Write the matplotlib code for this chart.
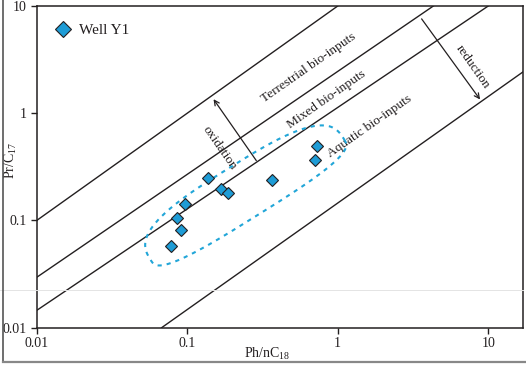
import numpy as np
import matplotlib
matplotlib.use("Agg")
import matplotlib.pyplot as plt
from matplotlib.lines import Line2D

plt.rcParams['font.family'] = ['Liberation Serif', 'DejaVu Serif']
plt.rcParams['mathtext.fontset'] = 'custom'
plt.rcParams['mathtext.rm'] = 'Liberation Serif'
plt.rcParams['mathtext.it'] = 'Liberation Serif:italic'

# ---- data ----
ph_nc18 = [0.078, 0.0906, 0.0859, 0.0967, 0.138, 0.167, 0.1875, 0.364, 0.725, 0.706]
pr_c17 = [0.0578, 0.0814, 0.106, 0.1416, 0.2506, 0.1954, 0.1795, 0.2387, 0.495, 0.366]
series_label = "Well Y1"

# boundary lines (endpoints in data units)
boundary_x = [[0.01, 1.0], [0.01, 4.32], [0.01, 10.0], [0.0676, 17.1]]
boundary_y = [[0.1, 10.0], [0.0295, 10.0], [0.0145, 10.0], [0.01, 2.44]]

x_ticks = [0.01, 0.1, 1, 10]
x_ticklabels = ["0.01", "0.1", "1", "10"]
y_ticks = [0.01, 0.1, 1, 10]
y_ticklabels = ["0.01", "0.1", "1", "10"]

dark = '#231f20'
blue = '#1e9cd6'
dash_blue = '#22a6d8'

fig = plt.figure(figsize=(5.26, 3.65), dpi=100)
ax = fig.add_axes([36.7 / 526, 37.3 / 365, 486.6 / 526, 321.7 / 365])
ax.set_xscale('log')
ax.set_yscale('log')
ax.set_xlim(0.01, 17.1)
ax.set_ylim(0.01, 10)

for bx, by in zip(boundary_x, boundary_y):
    ax.plot(bx, by, color=dark, lw=1.0, zorder=2)

# arrows
ax.annotate('', xy=(0.146, 1.42), xytext=(0.295, 0.344),
            arrowprops=dict(arrowstyle='->', color=dark, lw=0.9, mutation_scale=9))
ax.annotate('', xy=(9.05, 1.28), xytext=(3.52, 7.96),
            arrowprops=dict(arrowstyle='->', color=dark, lw=0.9, mutation_scale=9))

tfs = 9.6
ax.text(0.644, 2.65, 'Terrestrial bio-inputs', rotation=35, rotation_mode='anchor',
        ha='center', va='center', fontsize=tfs, color=dark)
ax.text(0.849, 1.33, 'Mixed bio-inputs', rotation=35, rotation_mode='anchor',
        ha='center', va='center', fontsize=tfs, color=dark)
ax.text(1.64, 0.761, 'Aquatic bio-inputs', rotation=35, rotation_mode='anchor',
        ha='center', va='center', fontsize=tfs, color=dark)
ax.text(0.165, 0.474, 'oxidation', rotation=-55, rotation_mode='anchor',
        ha='center', va='center', fontsize=tfs, color=dark)
ax.text(7.93, 2.71, 'reduction', rotation=-55, rotation_mode='anchor',
        ha='center', va='center', fontsize=tfs, color=dark)

# dashed envelope (asymmetric superellipse defined in pixel units around a data centre)
env_center = (0.252, 0.155)
env_a, env_b_up, env_b_low, env_n, env_angle = 114.0, 37.0, 18.0, 3.0, 32.0
fig.canvas.draw()
cx, cy = ax.transData.transform(env_center)
t = np.linspace(0, 2 * np.pi, 400)
ct, st = np.cos(t), np.sin(t)
u = env_a * np.sign(ct) * np.abs(ct) ** (2 / env_n)
b = np.where(st > 0, env_b_low, env_b_up)
v = b * np.sign(st) * np.abs(st) ** (2 / env_n)
th = np.deg2rad(env_angle)
dx = u * np.cos(th) + v * np.sin(th)
dy_img = -u * np.sin(th) + v * np.cos(th)
pts = np.column_stack([cx + dx, cy - dy_img])
dpts = ax.transData.inverted().transform(pts)
ax.plot(dpts[:, 0], dpts[:, 1], color=dash_blue, lw=1.5, dashes=(2, 2.4), zorder=3)

ax.plot(ph_nc18, pr_c17, linestyle='none', marker='D', ms=6.6, mfc=blue,
        mec=dark, mew=0.8, label=series_label, zorder=4)

leg = ax.legend(loc='center left', bbox_to_anchor=(0.0385, 0.925), frameon=False,
                borderpad=0, borderaxespad=0, handlelength=1.0, handletextpad=0.55,
                markerscale=1.2, fontsize=11)
for txt in leg.get_texts():
    txt.set_color(dark)

ax.set_xticks(x_ticks)
ax.set_xticklabels(x_ticklabels)
ax.set_yticks(y_ticks)
ax.set_yticklabels(y_ticklabels)
ax.minorticks_off()
ax.tick_params(axis='both', which='major', direction='out', length=4, width=1.0,
               color=dark, labelsize=10, labelcolor=dark, pad=3)
for sp in ax.spines.values():
    sp.set_color(dark)
    sp.set_linewidth(1.1)

ax.set_xlabel('Ph/nC$_{18}$', fontsize=10, color=dark)
ax.set_ylabel('Pr/C$_{17}$', fontsize=10, color=dark)
ax.xaxis.set_label_coords((267 - 36.7) / 486.6, (327.7 - 354) / 321.7)
ax.yaxis.set_label_coords((11 - 36.7) / 486.6, (327.7 - 160) / 321.7)
ax.xaxis.label.set_va('center')
ax.yaxis.label.set_va('center')

# faint horizontal artefact line and figure frame
fig.add_artist(Line2D([0.0, 0.995], [(365 - 290) / 365] * 2, color='#e4e4e4', lw=0.7,
                      transform=fig.transFigure, zorder=5))
fig.add_artist(Line2D([2.5 / 526, 2.5 / 526], [3.5 / 365, 1.0], color='#555555', lw=1.2,
                      transform=fig.transFigure, zorder=5))
fig.add_artist(Line2D([2.5 / 526, 1.0], [3.5 / 365, 3.5 / 365], color='#888888', lw=1.6,
                      transform=fig.transFigure, zorder=5))

fig.savefig('out.png', dpi=100)
